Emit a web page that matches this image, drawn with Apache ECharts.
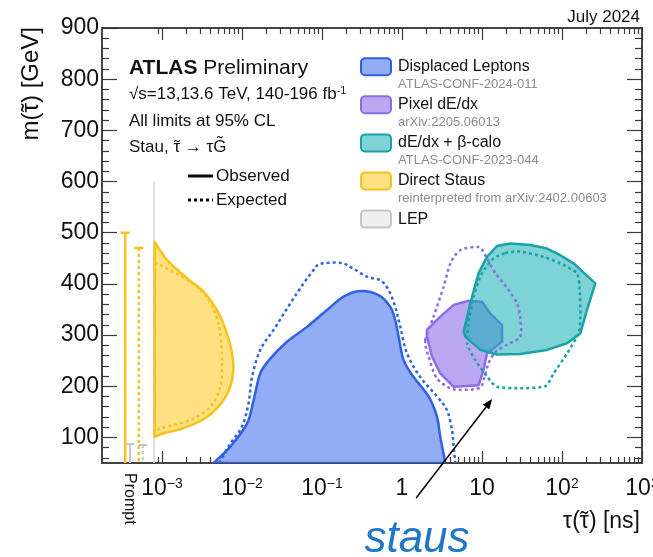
<!DOCTYPE html>
<html>
<head>
<meta charset="utf-8">
<title>Stau lifetime vs mass limits</title>
<script src="https://cdn.jsdelivr.net/npm/echarts@6/dist/echarts.min.js"></script>
<style>
html, body { margin: 0; padding: 0; background: #fff; }
#chart { width: 653px; height: 557px; }
</style>
</head>
<body>
<div id="chart"></div>
<script>
// ---- Limits in the (lifetime, mass) plane: [tau in ns, m in GeV] ----
const displacedLeptonsObs = [
  [0.00442, 50], [0.00714, 82], [0.01155, 127], [0.01396, 173], [0.0169, 225],
  [0.0226, 254], [0.0365, 287], [0.0649, 316], [0.1155, 349], [0.186, 375],
  [0.301, 386], [0.51, 378], [0.714, 355], [0.824, 329], [0.907, 297],
  [1.047, 251], [1.396, 218], [2.15, 180], [2.74, 140], [3.01, 101], [3.48, 50]
];
const displacedLeptonsExp = [
  [0.0052, 50], [0.00714, 88], [0.0100, 121], [0.0121, 167], [0.01334, 218],
  [0.0169, 271], [0.0248, 310], [0.0402, 362], [0.0589, 401], [0.0785, 427],
  [0.0953, 439], [0.169, 441], [0.239, 431], [0.365, 414], [0.536, 407],
  [0.68, 388], [0.824, 355], [0.953, 316], [1.155, 264], [1.69, 218],
  [2.74, 180], [3.65, 153], [4.22, 114], [4.42, 82], [4.64, 50]
];
const directStausObs = [
  [8.1e-4, 482], [1.155e-3, 447], [2.05e-3, 411], [3.31e-3, 385], [4.87e-3, 349],
  [6.49e-3, 303], [7.72e-3, 251], [7.5e-3, 212], [5.89e-3, 173], [3.65e-3, 140],
  [1.86e-3, 118], [1.05e-3, 108], [8.1e-4, 101]
];
const directStausExp = [
  [8.1e-4, 441], [1.155e-3, 430], [2.26e-3, 404], [3.48e-3, 378], [4.63e-3, 342],
  [5.36e-3, 303], [5.62e-3, 251], [5.36e-3, 199], [4.02e-3, 160], [2.26e-3, 134],
  [1.155e-3, 121], [8.1e-4, 114]
];
const pixelDedxObs = [
  [2.05, 310], [3.01, 336], [4.42, 359], [6.80, 367], [10, 365], [12.7, 342],
  [17.8, 320], [17.8, 287], [11.55, 264], [10.47, 232], [9.07, 202], [4.42, 199],
  [3.01, 225], [2.37, 258], [2.05, 297]
];
const pixelDedxExp = [
  [1.955, 290], [2.48, 336], [3.31, 394], [4.02, 440], [5.36, 466], [9.07, 472],
  [11.0, 456], [14.7, 421], [21.5, 388], [27.4, 362], [30.1, 333], [30.1, 297],
  [20.5, 281], [14.7, 267], [12.1, 245], [10.47, 212], [9.07, 196], [4.42, 194],
  [2.74, 215], [2.15, 258]
];
const betaCaloObs = [
  [15.4, 474], [22.6, 479], [40.2, 476], [64.9, 469], [95.2, 456], [139.6, 440],
  [260.6, 401], [205.3, 349], [169.4, 303], [115.5, 284], [64.9, 271], [30.1, 263],
  [15.4, 262], [9.53, 271], [6.18, 297], [5.89, 306], [7.14, 362], [9.07, 421],
  [11.55, 453]
];
const betaCaloExp = [
  [19.5, 460], [30.1, 463], [58.9, 453], [104.7, 437], [154, 421], [166, 394],
  [169.4, 336], [161.3, 303], [115.5, 264], [78.5, 225], [61.8, 200], [30.1, 196],
  [15.4, 199], [11.55, 219], [8.24, 251], [6.49, 284], [6.80, 323], [7.85, 375],
  [10, 421], [14.0, 450]
];
// prompt (zero-lifetime) limits on the stau mass, GeV: [observed, expected]
const directStausPrompt = [500, 470];
const lepPrompt = [87, 85];

// arrow annotation tip: [tau in ns, m in GeV]
const arrowTip = [13.4, 175];

// ---- axis ticks and labels ----
const xTickExponents = [-3, -2, -1, 0, 1, 2, 3];
const xTickLabels = ['10^\u22123', '10^\u22122', '10^\u22121', '1', '10', '10^2', '10^3'];
const yTickLabels = [100, 200, 300, 400, 500, 600, 700, 800, 900];

// ---- legend text ----
const legendTitles = ['Displaced Leptons', 'Pixel dE/dx', 'dE/dx + \u03B2-calo', 'Direct Staus', 'LEP'];
const legendRefs = ['ATLAS-CONF-2024-011', 'arXiv:2205.06013', 'ATLAS-CONF-2023-044',
                    'reinterpreted from arXiv:2402.00603', ''];

// ---- style ----
const FONT = "'Liberation Sans', Arial, Helvetica, sans-serif";
const COL = {
  blueLine: '#2e62e2', blueFill: '#93acf6',
  yellowLine: '#f6c31c', yellowFill: '#ffe184',
  purpleLine: '#8b6ee6', purpleFill: 'rgba(140,110,235,0.6)',
  tealLine: '#18a3a7', tealFill: 'rgba(20,175,180,0.55)',
  lepLine: '#c4c4c4', lepFill: '#eeeeee',
  axis: '#3a3a3a', text: '#111111', sub: '#8c8c8c'
};
const legendStyles = [
  [COL.blueFill, COL.blueLine], [COL.purpleFill, COL.purpleLine], [COL.tealFill, COL.tealLine],
  [COL.yellowFill, COL.yellowLine], [COL.lepFill, COL.lepLine]
];

// horizontal axis: log10(tau) for the lifetime part, a "Prompt" strip to its left
const X_MIN = -3.75, X_MAX = 3, LOG_MIN = -3.1;
const Y_MIN = 50, Y_MAX = 900;
const promptSlots = { stauObs: -3.46, lepObs: -3.40, stauExp: -3.29, lepExp: -3.24 };

const xMajor = xTickExponents.slice();
const xMinor = [];
for (let d = -4; d < 3; d++) {
  for (let k = 2; k <= 9; k++) {
    const v = d + Math.log10(k);
    if (v > -3.05 && v < X_MAX) xMinor.push(v);
  }
}
const yMajor = yTickLabels.slice();
const yMinor = [];
for (let v = 60; v < Y_MAX; v += 20) if (v % 100 !== 0) yMinor.push(v);

const DOTS = [3, 3];

// Catmull-Rom spline through pixel points, written as SVG path data.
// mode: 'open' | 'fill' (curve closed by a straight edge) | 'loop' (smooth closed curve)
function splinePath(pts, mode, tension) {
  const n = pts.length;
  const loop = mode === 'loop';
  const get = i => loop ? pts[(i + n) % n] : pts[Math.max(0, Math.min(n - 1, i))];
  const f = tension / 6;
  let d = 'M' + pts[0][0].toFixed(2) + ' ' + pts[0][1].toFixed(2);
  const segs = loop ? n : n - 1;
  for (let i = 0; i < segs; i++) {
    const p0 = get(i - 1), p1 = get(i), p2 = get(i + 1), p3 = get(i + 2);
    const c1x = p1[0] + (p2[0] - p0[0]) * f, c1y = p1[1] + (p2[1] - p0[1]) * f;
    const c2x = p2[0] - (p3[0] - p1[0]) * f, c2y = p2[1] - (p3[1] - p1[1]) * f;
    d += ' C' + [c1x, c1y, c2x, c2y, p2[0], p2[1]].map(v => v.toFixed(2)).join(' ');
  }
  if (mode !== 'open') d += ' Z';
  return d;
}

function toAxis(points) {
  return points.map(p => [Math.log10(p[0]), p[1]]);
}

function contourSeries(points, opt) {
  const data = toAxis(points);
  return {
    type: 'custom',
    silent: true,
    clip: true,
    z: opt.z,
    data: data,
    renderItem(params, api) {
      if (params.dataIndex !== 0) return null;
      const pts = data.map(d => api.coord(d));
      const style = {
        fill: opt.fill || null,
        stroke: opt.stroke,
        lineWidth: opt.lineWidth || 2.5,
        lineDash: opt.dashed ? DOTS : null,
        lineJoin: 'round'
      };
      if (opt.mode === 'polygon') {
        return { type: 'polygon', shape: { points: pts }, style: style };
      }
      return { type: 'path', shape: { pathData: splinePath(pts, opt.mode, opt.tension || 1) }, style: style };
    }
  };
}

const promptMarks = [
  { u: promptSlots.stauObs, m: directStausPrompt[0], color: COL.yellowLine, dashed: false, w: 2.5 },
  { u: promptSlots.lepObs, m: lepPrompt[0], color: COL.lepLine, dashed: false, w: 2 },
  { u: promptSlots.stauExp, m: directStausPrompt[1], color: COL.yellowLine, dashed: true, w: 2.5 },
  { u: promptSlots.lepExp, m: lepPrompt[1], color: COL.lepLine, dashed: true, w: 2 }
];

const series = [
  contourSeries(directStausObs, { mode: 'fill', fill: COL.yellowFill, stroke: COL.yellowLine, z: 2 }),
  contourSeries(displacedLeptonsObs, { mode: 'fill', fill: COL.blueFill, stroke: COL.blueLine, z: 2 }),
  contourSeries(pixelDedxObs, { mode: 'polygon', fill: COL.purpleFill, stroke: COL.purpleLine, z: 2 }),
  contourSeries(betaCaloObs, { mode: 'polygon', fill: COL.tealFill, stroke: COL.tealLine, z: 3 }),
  contourSeries(directStausExp, { mode: 'open', stroke: COL.yellowLine, dashed: true, z: 4 }),
  contourSeries(displacedLeptonsExp, { mode: 'open', stroke: COL.blueLine, dashed: true, z: 4 }),
  contourSeries(pixelDedxExp, { mode: 'loop', tension: 0.8, stroke: COL.purpleLine, dashed: true, z: 4 }),
  contourSeries(betaCaloExp, { mode: 'loop', tension: 0.6, stroke: COL.tealLine, dashed: true, z: 4 }),
  {
    // separator between the prompt strip and the lifetime axis
    type: 'custom', silent: true, z: 1,
    data: [[LOG_MIN, 600]],
    renderItem(params, api) {
      const top = api.coord([LOG_MIN, 600]);
      const bot = api.coord([LOG_MIN, Y_MIN]);
      return { type: 'line', shape: { x1: top[0], y1: top[1], x2: bot[0], y2: bot[1] },
               style: { stroke: '#d2d2d2', lineWidth: 1.5 } };
    }
  },
  {
    // prompt limits drawn as capped vertical bars
    type: 'custom', silent: true, z: 5,
    data: promptMarks.map(p => [p.u, p.m]),
    renderItem(params, api) {
      const p = promptMarks[params.dataIndex];
      const top = api.coord([api.value(0), api.value(1)]);
      const bot = api.coord([api.value(0), Y_MIN]);
      const half = 4.5;
      return {
        type: 'group',
        children: [
          { type: 'line', shape: { x1: top[0], y1: top[1], x2: bot[0], y2: bot[1] },
            style: { stroke: p.color, lineWidth: p.w, lineDash: p.dashed ? DOTS : null } },
          { type: 'line', shape: { x1: top[0] - half, y1: top[1], x2: top[0] + half, y2: top[1] },
            style: { stroke: p.color, lineWidth: p.w } }
        ]
      };
    }
  },
  {
    // arrow pointing at the long-lived stau region
    type: 'custom', silent: true, clip: false, z: 6,
    data: [[Math.log10(arrowTip[0]), arrowTip[1]]],
    renderItem(params, api) {
      const tip = api.coord([api.value(0), api.value(1)]);
      const tail = [tip[0] - 76, tip[1] + 99];
      const dx = tip[0] - tail[0], dy = tip[1] - tail[1];
      const len = Math.hypot(dx, dy), ux = dx / len, uy = dy / len;
      const hl = 10, hw = 4;
      const base = [tip[0] - ux * hl, tip[1] - uy * hl];
      return {
        type: 'group',
        children: [
          { type: 'line', shape: { x1: tail[0], y1: tail[1], x2: base[0], y2: base[1] },
            style: { stroke: '#000', lineWidth: 1.5 } },
          { type: 'polygon', shape: { points: [tip,
              [base[0] - uy * hw, base[1] + ux * hw], [base[0] + uy * hw, base[1] - ux * hw]] },
            style: { fill: '#000' } }
        ]
      };
    }
  }
];

function xAxis(position, ticks, len, withLabels) {
  const ax = {
    type: 'value', min: X_MIN, max: X_MAX, position: position,
    axisLine: { show: true, onZero: false, lineStyle: { color: COL.axis, width: 1.5 } },
    axisTick: { show: true, inside: true, length: len, customValues: ticks,
                lineStyle: { color: COL.axis, width: 1.2 } },
    axisLabel: { show: false },
    splitLine: { show: false }
  };
  if (withLabels) {
    ax.axisLabel = {
      show: true, customValues: xMajor, margin: 14, color: COL.text,
      alignMinLabel: 'center', alignMaxLabel: 'center', hideOverlap: false,
      formatter(v) {
        const s = xTickLabels[xTickExponents.indexOf(Math.round(v))] || '';
        const parts = s.split('^');
        return parts.length > 1 ? '{b|' + parts[0] + '}{s|' + parts[1] + '}' : '{b|' + s + '}';
      },
      rich: {
        b: { fontSize: 23, fontFamily: FONT, color: COL.text },
        s: { fontSize: 14, fontFamily: FONT, color: COL.text, verticalAlign: 'top' }
      }
    };
  }
  return ax;
}

function yAxis(position, ticks, len, withLabels) {
  return {
    type: 'value', min: Y_MIN, max: Y_MAX, position: position,
    axisLine: { show: true, onZero: false, lineStyle: { color: COL.axis, width: 1.5 } },
    axisTick: { show: true, inside: true, length: len, customValues: ticks,
                lineStyle: { color: COL.axis, width: 1.2 } },
    axisLabel: withLabels
      ? { show: true, customValues: yMajor, margin: 3, fontSize: 23, fontFamily: FONT,
          color: COL.text, padding: [9, 0, 0, 0] }
      : { show: false },
    splitLine: { show: false }
  };
}

// ---- text blocks ----
const graphic = [];
function txt(x, y, text, size, extra) {
  graphic.push(Object.assign({
    type: 'text', x: x, y: y, silent: true, z: 10,
    style: Object.assign({ text: text, fontSize: size, fontFamily: FONT, fill: COL.text,
                           align: 'left', verticalAlign: 'middle' }, (extra && extra.style) || {})
  }, (extra && extra.el) || {}));
}

// text with a tilde accent over selected glyphs; segments are strings or {t, cap}
const measureCtx = document.createElement('canvas').getContext('2d');
function textWidth(s, size) {
  measureCtx.font = size + 'px ' + FONT;
  return measureCtx.measureText(s).width;
}
function tildeText(x, y, segments, size, opts) {
  opts = opts || {};
  let full = '';
  const accents = [];
  segments.forEach(s => {
    if (typeof s === 'string') { full += s; return; }
    accents.push({ cx: textWidth(full, size) + textWidth(s.t, size) / 2, cap: !!s.cap });
    full += s.t;
  });
  const total = textWidth(full, size);
  const x0 = opts.align === 'right' ? -total : 0;
  const children = [{ type: 'text', x: x0, y: 0,
    style: { text: full, fontSize: size, fontFamily: FONT, fill: COL.text, align: 'left', verticalAlign: 'middle' } }];
  accents.forEach(a => children.push({ type: 'text', x: x0 + a.cx, y: a.cap ? -0.2 * size : 0,
    style: { text: '\u02DC', fontSize: size, fontFamily: FONT, fill: COL.text, align: 'center', verticalAlign: 'middle' } }));
  graphic.push({ type: 'group', x: x, y: y, rotation: opts.rotation || 0, silent: true, z: 10, children: children });
}

txt(640, 17, 'July 2024', 17, { style: { align: 'right' } });
txt(129, 68, '{a|ATLAS} {b|Preliminary}', 21, { style: {
  rich: { a: { fontSize: 21, fontWeight: 'bold', fontFamily: FONT, fill: COL.text },
          b: { fontSize: 21, fontFamily: FONT, fill: COL.text } } } });
txt(129, 94, '{b|\u221As=13,13.6 TeV, 140-196 fb}{s|-1}', 17, { style: {
  rich: { b: { fontSize: 17, fontFamily: FONT, fill: COL.text },
          s: { fontSize: 11, fontFamily: FONT, fill: COL.text, verticalAlign: 'top' } } } });
txt(129, 121, 'All limits at 95% CL', 17);
tildeText(129, 147, ['Stau, ', { t: '\u03C4' }, ' \u2192 \u03C4', { t: 'G', cap: true }], 17);

graphic.push({ type: 'line', silent: true, shape: { x1: 188, y1: 176, x2: 213, y2: 176 },
               style: { stroke: '#000', lineWidth: 3 } });
graphic.push({ type: 'line', silent: true, shape: { x1: 188, y1: 200, x2: 213, y2: 200 },
               style: { stroke: '#000', lineWidth: 3, lineDash: DOTS } });
txt(216, 176, 'Observed', 17);
txt(216, 200, 'Expected', 17);

legendTitles.forEach((t, i) => {
  const cy = 66.7 + i * 38.1;
  graphic.push({ type: 'rect', silent: true, z: 10,
    shape: { x: 361, y: cy - 8.5, width: 30, height: 17, r: 4 },
    style: { fill: legendStyles[i][0], stroke: legendStyles[i][1], lineWidth: 2 } });
  txt(398, cy, t, 16);
  if (legendRefs[i]) txt(398, cy + 17.5, legendRefs[i], 13, { style: { fill: COL.sub } });
});

// axis titles
tildeText(31, 27, ['m(', { t: '\u03C4' }, ') [GeV]'], 24, { align: 'right', rotation: Math.PI / 2 });
tildeText(640, 522, ['\u03C4(', { t: '\u03C4' }, ') [ns]'], 23, { align: 'right' });
txt(129, 473, 'Prompt', 16, { el: { rotation: -Math.PI / 2 } });
txt(417, 540, 'staus', 44, { style: { align: 'center', fill: '#1d78c8', fontStyle: 'italic' } });

const chart = echarts.init(document.getElementById('chart'), null, { renderer: 'canvas' });
chart.setOption({
  animation: false,
  backgroundColor: '#ffffff',
  grid: { left: 102, right: 11, top: 28, bottom: 94, containLabel: false, outerBoundsMode: 'none' },
  xAxis: [
    xAxis('bottom', xMajor, 12, true),
    xAxis('bottom', xMinor, 6, false),
    xAxis('top', xMajor, 12, false),
    xAxis('top', xMinor, 6, false)
  ],
  yAxis: [
    yAxis('left', yMajor, 15, true),
    yAxis('left', yMinor, 7, false),
    yAxis('right', yMajor, 15, false),
    yAxis('right', yMinor, 7, false)
  ],
  series: series,
  graphic: graphic
});
</script>
</body>
</html>
